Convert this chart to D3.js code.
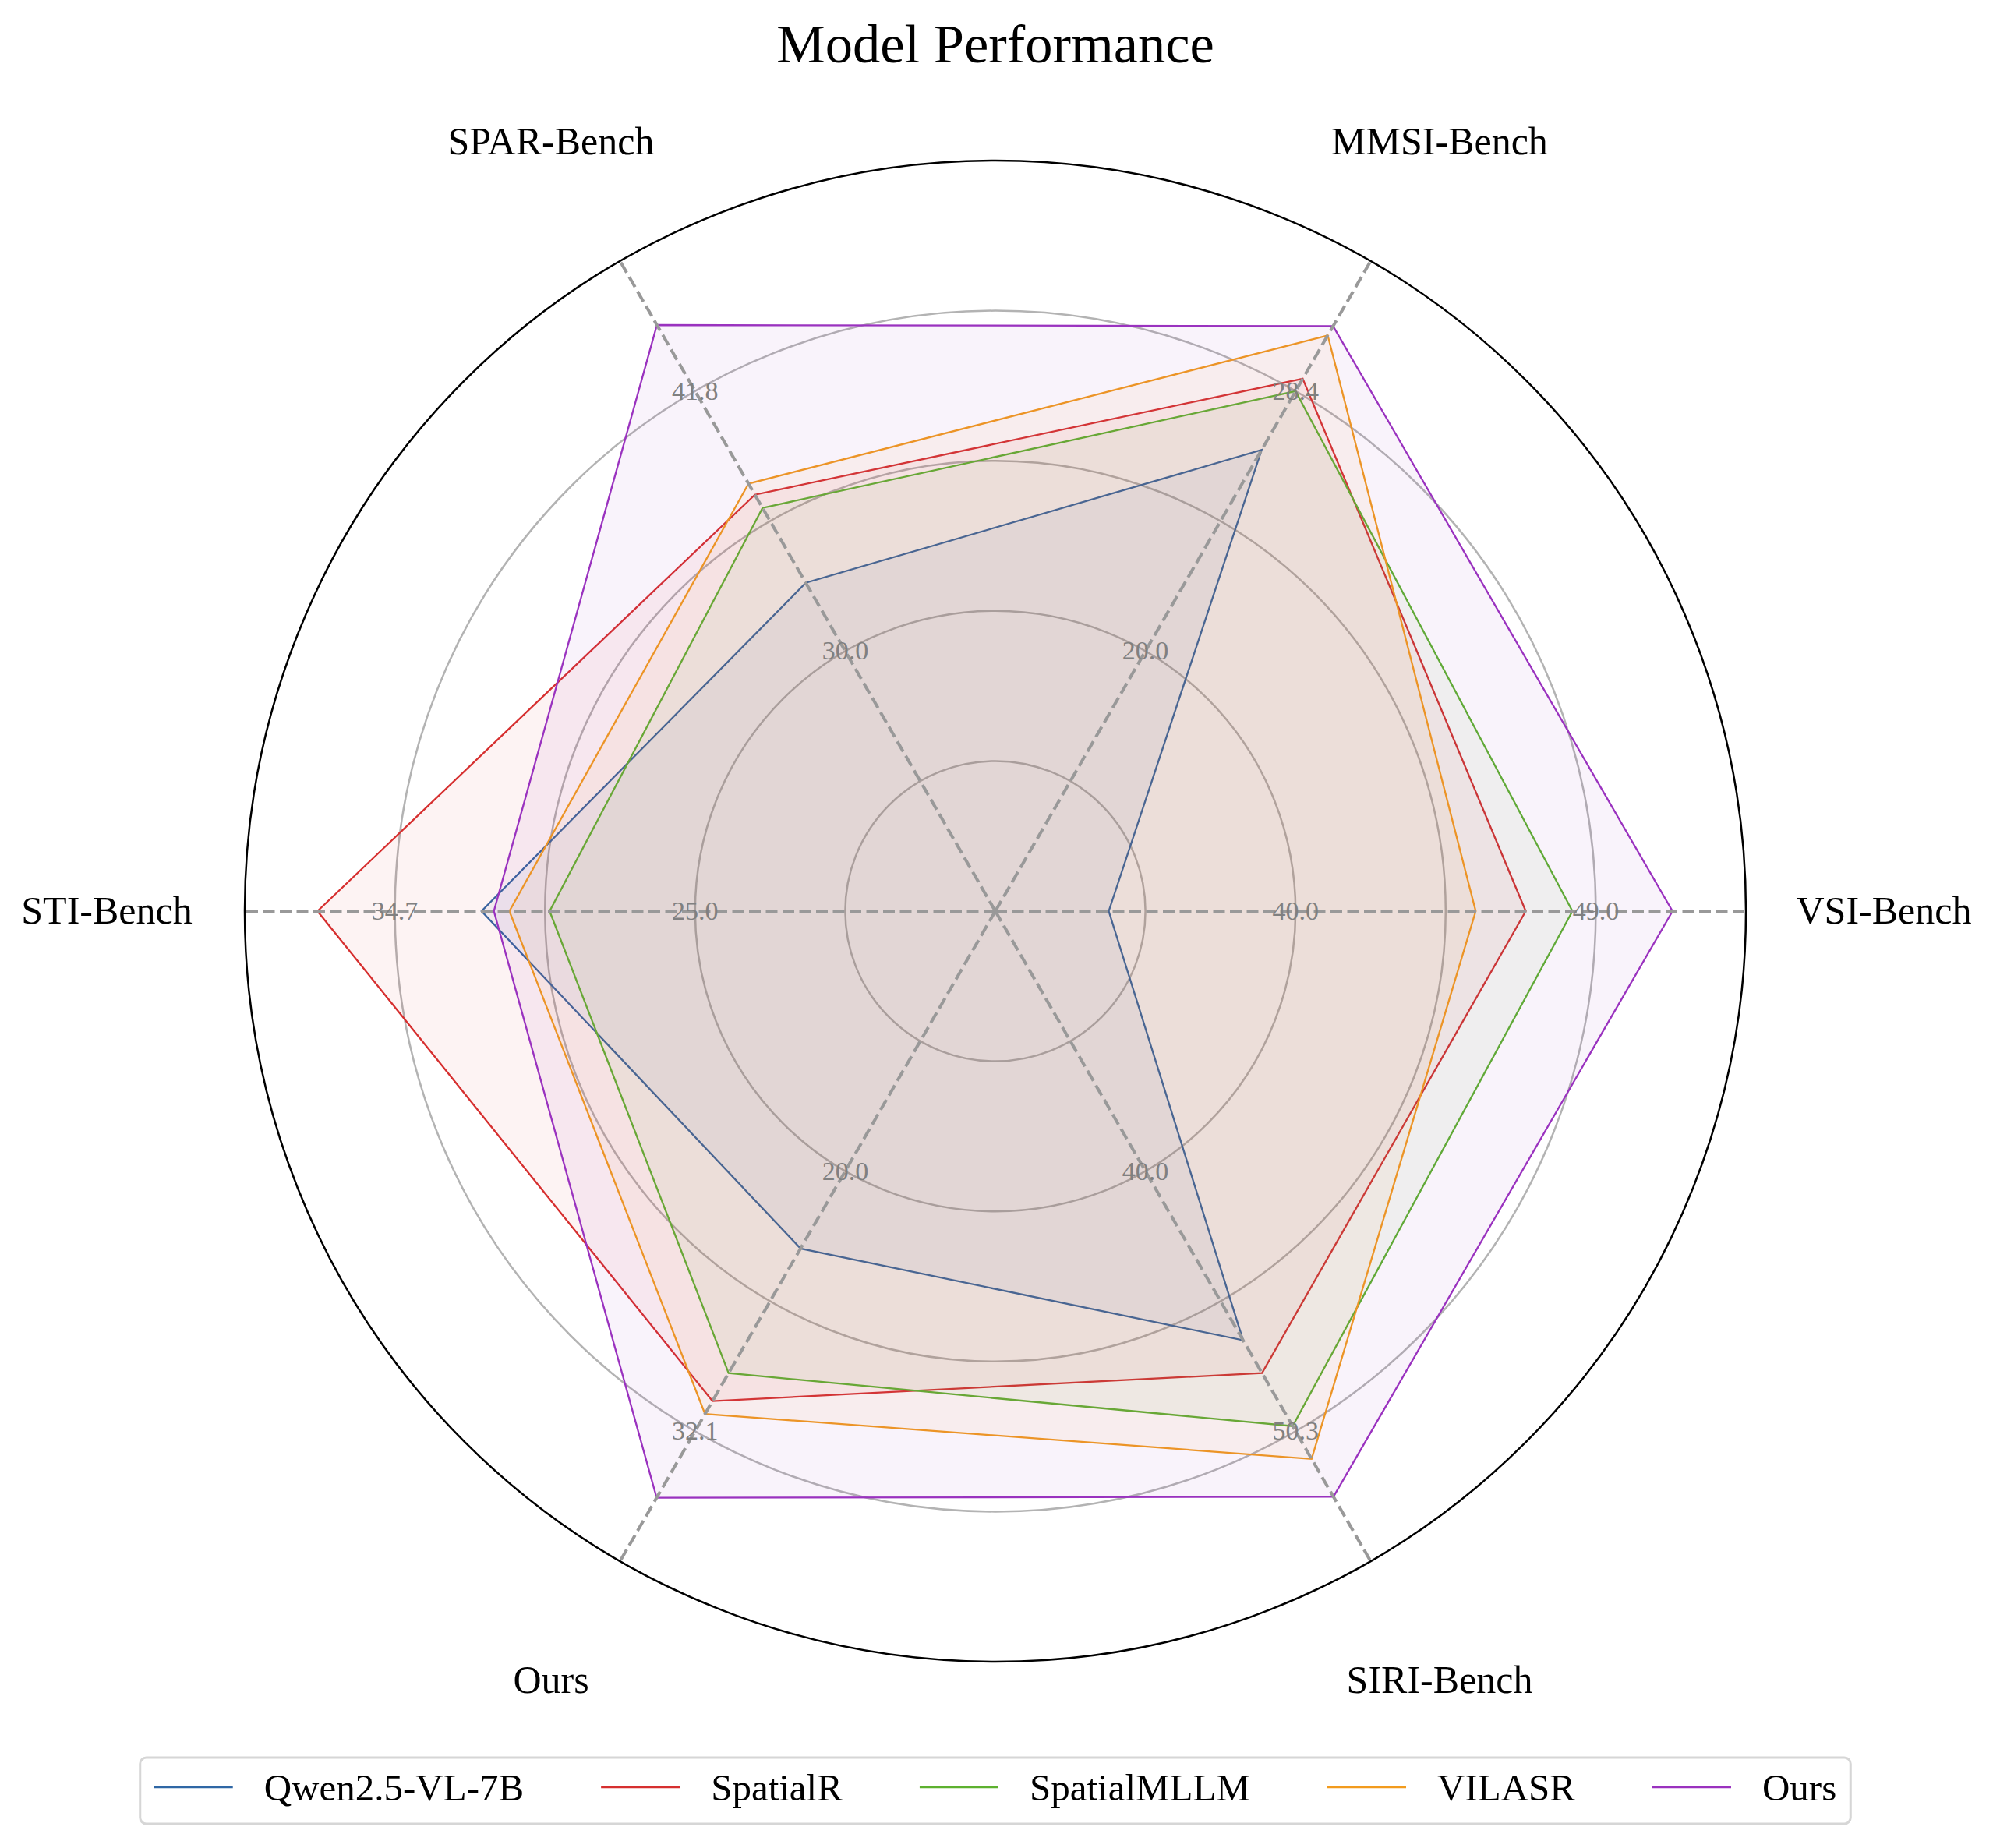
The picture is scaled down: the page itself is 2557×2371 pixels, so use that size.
<!DOCTYPE html>
<html>
<head>
<meta charset="utf-8">
<script src="https://cdn.jsdelivr.net/npm/d3@7/dist/d3.min.js"></script>
<style>
    html, body { margin: 0; padding: 0; background: #fff; }
    svg { display: block; font-family: "Liberation Serif", "Times New Roman", serif; }
</style>
</head>
<body>
<div id="chart"></div>
<script>
// benchmarks, counter-clockwise from the right
const axes = ['VSI-Bench', 'MMSI-Bench', 'SPAR-Bench', 'STI-Bench', 'Ours', 'SIRI-Bench'];

// each axis has its own scale, labelled on ring 2 and ring 4
const tickInner = [40.0, 20.0, 30.0, 25.0, 20.0, 40.0];
const tickOuter = [49.0, 28.4, 41.8, 34.7, 32.1, 50.3];

const models = ['Qwen2.5-VL-7B', 'SpatialR', 'SpatialMLLM', 'VILASR', 'Ours'];
const qwenScores = [34.4, 26.5, 33.1, 31.9, 23.6, 46.7];
const spatialRScores = [46.9, 28.8, 37.1, 37.2, 30.7, 48.0];
const spatialMLLMScores = [48.3, 28.4, 36.5, 29.7, 29.4, 50.1];
const vilasrScores = [45.4, 30.2, 37.6, 31.0, 31.3, 51.4];
const oursScores = [51.3, 30.5, 44.8, 31.5, 35.2, 52.9];

const colors = ['#2f67a5', '#d62f2f', '#5db12f', '#f29b1d', '#9a32bf'];

const series = models.map((name, i) => ({
    name: name,
    color: colors[i],
    values: [qwenScores, spatialRScores, spatialMLLMScores, vilasrScores, oursScores][i]
}));

const width = 2557, height = 2371;
const cx = 1277, cy = 1169, R = 963;

const svg = d3.select('#chart').append('svg')
    .attr('width', width).attr('height', height);

svg.append('rect').attr('width', width).attr('height', height).attr('fill', '#fff');

const g = svg.append('g').attr('transform', `translate(${cx},${cy})`);

const angle = d3.scaleLinear().domain([0, axes.length]).range([0, 2 * Math.PI]);
const radial = axes.map((a, i) => d3.scaleLinear()
    .domain([tickInner[i], tickOuter[i]]).range([0.4 * R, 0.8 * R]));

const pt = (i, r) => [r * Math.cos(angle(i)), -r * Math.sin(angle(i))];

// grid rings
g.selectAll('circle.ring').data([0.2, 0.4, 0.6, 0.8]).enter().append('circle')
    .attr('class', 'ring')
    .attr('r', d => d * R)
    .attr('fill', 'none').attr('stroke', '#b3b3b3').attr('stroke-width', 2.5);

g.append('circle').attr('r', R)
    .attr('fill', 'none').attr('stroke', '#000').attr('stroke-width', 2.5);

// model polygons
const line = d3.line().curve(d3.curveLinearClosed);

series.forEach(s => {
    const pts = s.values.map((v, i) => pt(i, radial[i](v)));
    g.append('path').attr('d', line(pts))
        .attr('fill', s.color).attr('fill-opacity', 0.06)
        .attr('stroke', s.color).attr('stroke-width', 2.3)
        .attr('stroke-linejoin', 'miter');
});

// spokes
axes.forEach((a, i) => {
    const [x, y] = pt(i, R);
    g.append('line').attr('x1', 0).attr('y1', 0).attr('x2', x).attr('y2', y)
        .attr('stroke', '#999').attr('stroke-width', 4)
        .attr('stroke-dasharray', '15,6.5');
});

// per-axis tick values
axes.forEach((a, i) => {
    [tickInner[i], tickOuter[i]].forEach(t => {
        const [x, y] = pt(i, radial[i](t));
        g.append('text').attr('x', x).attr('y', y).attr('dy', 11)
            .attr('text-anchor', 'middle')
            .attr('font-size', 34).attr('fill', '#808080')
            .text(t.toFixed(1));
    });
});

// axis names
axes.forEach((a, i) => {
    const [x, y] = pt(i, 1140);
    g.append('text').attr('x', x).attr('y', y).attr('dy', 16)
        .attr('text-anchor', 'middle')
        .attr('font-size', 50).attr('fill', '#000')
        .text(a);
});

svg.append('text').attr('x', 1277).attr('y', 80)
    .attr('text-anchor', 'middle').attr('font-size', 70.5)
    .text('Model Performance');

// legend, one row
const legend = svg.append('g');
const box = legend.append('rect')
    .attr('y', 2255).attr('height', 85).attr('rx', 8)
    .attr('fill', '#fff').attr('stroke', '#d6d6d6').attr('stroke-width', 3);

const handleLen = 101, textPad = 40, colGap = 99, sidePad = 18;
let xCur = 0;
const items = series.map(s => {
    const item = legend.append('g');
    item.append('line').attr('x1', 0).attr('x2', handleLen)
        .attr('y1', 2293).attr('y2', 2293)
        .attr('stroke', s.color).attr('stroke-width', 2.5);
    const label = item.append('text').attr('x', handleLen + textPad).attr('y', 2310)
        .attr('font-size', 49).text(s.name);
    const w = handleLen + textPad + label.node().getComputedTextLength();
    item.attr('transform', `translate(${xCur},0)`);
    xCur += w + colGap;
    return item;
});
const total = xCur - colGap + 2 * sidePad;
const left = 1277 - total / 2;
box.attr('x', left).attr('width', total);
items.forEach(item => {
    const t = item.attr('transform').match(/translate\(([-\d.]+)/)[1];
    item.attr('transform', `translate(${left + sidePad + (+t)},0)`);
});
</script>
</body>
</html>
